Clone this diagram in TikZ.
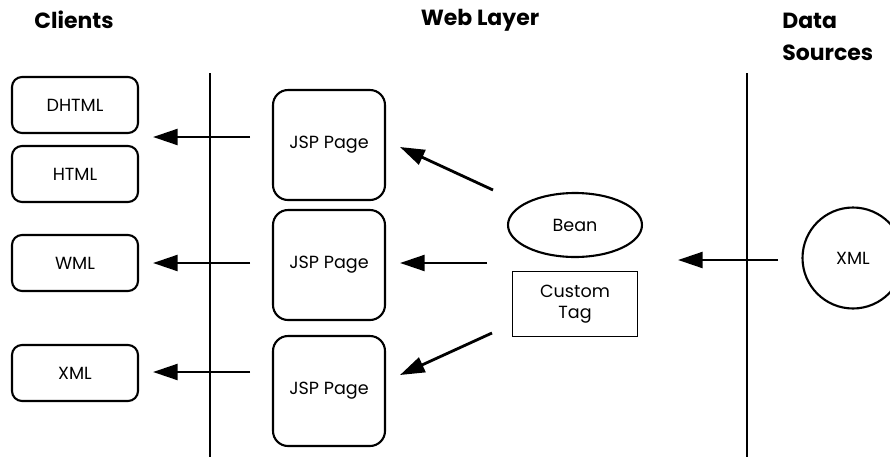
\documentclass[tikz,border=0pt]{standalone}
\usepackage{fontspec}
\setmainfont{Poppins}
\usetikzlibrary{arrows.meta,shapes.geometric}

\tikzset{
	client/.style={draw,line width=1.2pt,rounded corners=0.2cm,minimum width=2.52cm,minimum height=1.12cm,inner sep=0,font=\fontsize{10}{12}\selectfont},
	jsp/.style={draw,line width=1.2pt,rounded corners=0.3cm,minimum width=2.24cm,minimum height=2.2cm,inner sep=0,font=\fontsize{10}{12}\selectfont},
	title/.style={font=\fontsize{12.5}{15}\selectfont\bfseries,align=left},
	arr/.style={line width=1.6pt,-{Triangle[length=14pt,width=9pt]}},
	layer/.style={line width=1.6pt}
}

\begin{document}
\begin{tikzpicture}[x=0.02cm,y=-0.02cm]

	\useasboundingbox (0,0) rectangle (890,457);

	% column titles
	\node[title] (clients) at (74,20) {Clients};
	\node[title] (web) at (480,20) {Web Layer};
	\node[title,anchor=north west,inner sep=0] (data) at (782,13) {Data\\[3pt]Sources};

	% layer borders
	\coordinate (l1) at (210,73);
	\coordinate (l2) at (210,457);
	\coordinate (r1) at (747,73);
	\coordinate (r2) at (747,457);
	\draw[layer] (l1) -- (l2);
	\draw[layer] (r1) -- (r2);

	% clients
	\node[client] (dhtml) at (75,105) {DHTML};
	\node[client] (html) at (75,174) {HTML};
	\node[client] (wml) at (75,263) {WML};
	\node[client] (xmlc) at (75,373) {XML};

	% jsp pages
	\node[jsp] (jsp1) at (329,145) {JSP Page};
	\node[jsp] (jsp2) at (329,265) {JSP Page};
	\node[jsp] (jsp3) at (329,391) {JSP Page};

	% beans and tags
	\node[draw,line width=1.2pt,ellipse,minimum width=2.68cm,minimum height=1.28cm,inner sep=0,font=\fontsize{10}{12}\selectfont] (bean) at (575,225) {Bean};
	\node[draw,thick,minimum width=2.5cm,minimum height=1.3cm,inner sep=0,align=center,font=\fontsize{10}{12}\selectfont] (tag) at (575,304) {Custom\\Tag};

	% data source
	\node[draw,line width=1.2pt,circle,minimum size=2.02cm,inner sep=0,font=\fontsize{10}{12}\selectfont] (xmls) at (853,258) {XML};

	% arrow ends
	\coordinate (a1s) at (250,137);
	\coordinate (a1e) at (153,137);
	\coordinate (a2s) at (250,263);
	\coordinate (a2e) at (153,263);
	\coordinate (a3s) at (250,372);
	\coordinate (a3e) at (153,372);
	\coordinate (b1s) at (493,190);
	\coordinate (b1e) at (400,147);
	\coordinate (b2s) at (487,263);
	\coordinate (b2e) at (400,263);
	\coordinate (b3s) at (492,333);
	\coordinate (b3e) at (400,375);
	\coordinate (ds) at (778,260);
	\coordinate (de) at (678,260);

	\draw[arr] (a1s) -- (a1e);
	\draw[arr] (a2s) -- (a2e);
	\draw[arr] (a3s) -- (a3e);
	\draw[arr] (b1s) -- (b1e);
	\draw[arr] (b2s) -- (b2e);
	\draw[arr] (b3s) -- (b3e);
	\draw[arr] (ds) -- (de);

\end{tikzpicture}
\end{document}
